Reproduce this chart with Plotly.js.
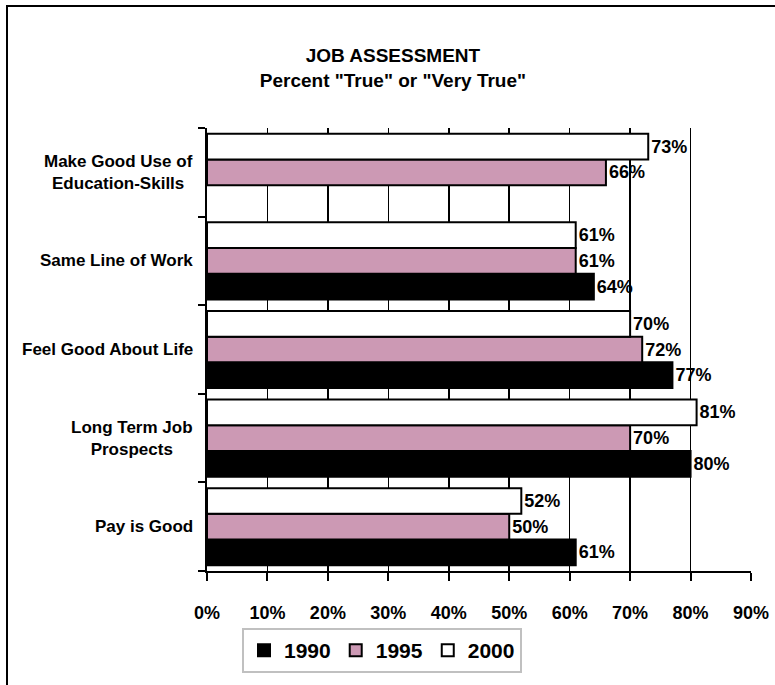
<!DOCTYPE html>
<html>
<head>
<meta charset="utf-8">
<script src="https://cdn.plot.ly/plotly-3.0.1.min.js"></script>
<style>
html, body { margin: 0; padding: 0; background: #fff; }
#chart { width: 775px; height: 685px; }
</style>
</head>
<body>
<div id="chart"></div>
<script>
// ---- data ----
const categories = [
  "Pay is Good",
  "Long Term Job<br>Prospects",
  "Feel Good About Life",
  "Same Line of Work",
  "Make Good Use of<br>Education-Skills"
];
const years = ["1990", "1995", "2000"];
const values1990 = [61, 80, 77, 64, null];
const values1995 = [50, 70, 72, 61, 66];
const values2000 = [52, 81, 70, 61, 73];
const xTickValues = [0, 10, 20, 30, 40, 50, 60, 70, 80, 90];
const xTickLabels = ["0%", "10%", "20%", "30%", "40%", "50%", "60%", "70%", "80%", "90%"];

// ---- styling ----
const FONT = "Liberation Sans, Arial, Helvetica, sans-serif";
const colors = ["#000000", "#cc99b4", "#ffffff"];
const M = { l: 207, r: 24, t: 128, b: 107 };
const W = 775, H = 685;
const pw = W - M.l - M.r, ph = H - M.t - M.b;

const series = [values1990, values1995, values2000];
const traces = series.map((vals, i) => ({
  type: "bar",
  orientation: "h",
  name: years[i],
  y: categories,
  x: vals,
  text: vals.map(v => (v === null ? "" : v + "%")),
  textinfo: "text",
  textposition: "outside",
  constraintext: "none",
  cliponaxis: false,
  marker: { color: colors[i], line: { color: "#000", width: 2 } },
  textfont: { family: FONT, size: 18, weight: "bold", color: "#000" },
  hoverinfo: "skip"
}));

const annotations = categories.map(c => ({
  xref: "paper", yref: "y", x: 0, y: c,
  xanchor: "right", yanchor: "middle", xshift: -12,
  align: "center", showarrow: false, text: c,
  font: { family: FONT, size: 17, weight: "bold", color: "#000" }
}));

// frame (left & top edges visible, rest off-canvas)
const shapes = [{
  type: "rect", xref: "paper", yref: "paper",
  x0: (7 - M.l) / pw, x1: (W + 20 - M.l) / pw,
  y0: -(H + 20 - (H - M.b)) / ph, y1: (H - M.b - 4) / ph,
  line: { color: "#000", width: 2 }, fillcolor: "rgba(0,0,0,0)", layer: "below"
}];

const layout = {
  width: W, height: H,
  margin: M,
  paper_bgcolor: "#fff", plot_bgcolor: "#fff",
  font: { family: FONT, color: "#000" },
  title: {
    text: 'JOB ASSESSMENT<br>Percent "True" or "Very True"',
    xref: "container", x: 0.507, xanchor: "center",
    yref: "container", y: 1 - 62 / H, yanchor: "middle",
    font: { family: FONT, size: 19, weight: "bold", color: "#000" }
  },
  barmode: "group",
  bargap: 0.13,
  bargroupgap: 0,
  showlegend: true,
  legend: {
    orientation: "h", traceorder: "normal",
    x: (382 - M.l) / pw, xanchor: "center",
    y: -(636 - (H - M.b)) / ph, yanchor: "top",
    bordercolor: "#c0c0c0", borderwidth: 2, bgcolor: "#fff",
    itemwidth: 30,
    font: { family: FONT, size: 21, weight: "bold", color: "#000" }
  },
  xaxis: {
    range: [0, 90], tickmode: "array", tickvals: xTickValues, ticktext: xTickLabels,
    showgrid: true, gridcolor: "#000", gridwidth: 1.5,
    zeroline: false, showline: true, linecolor: "#000", linewidth: 2,
    ticks: "outside", ticklen: 8, tickwidth: 2, tickcolor: "#000",
    ticklabelstandoff: 16,
    tickfont: { family: FONT, size: 18, weight: "bold", color: "#000" },
    fixedrange: true
  },
  yaxis: {
    type: "category", range: [-0.5, categories.length - 0.5],
    showgrid: false, zeroline: false,
    showline: true, linecolor: "#000", linewidth: 2,
    ticks: "outside", tickson: "boundaries", ticklen: 7, tickwidth: 2, tickcolor: "#000",
    showticklabels: false, fixedrange: true
  },
  annotations: annotations,
  shapes: shapes
};

Plotly.newPlot("chart", traces, layout, { displayModeBar: false, staticPlot: true });
</script>
</body>
</html>
